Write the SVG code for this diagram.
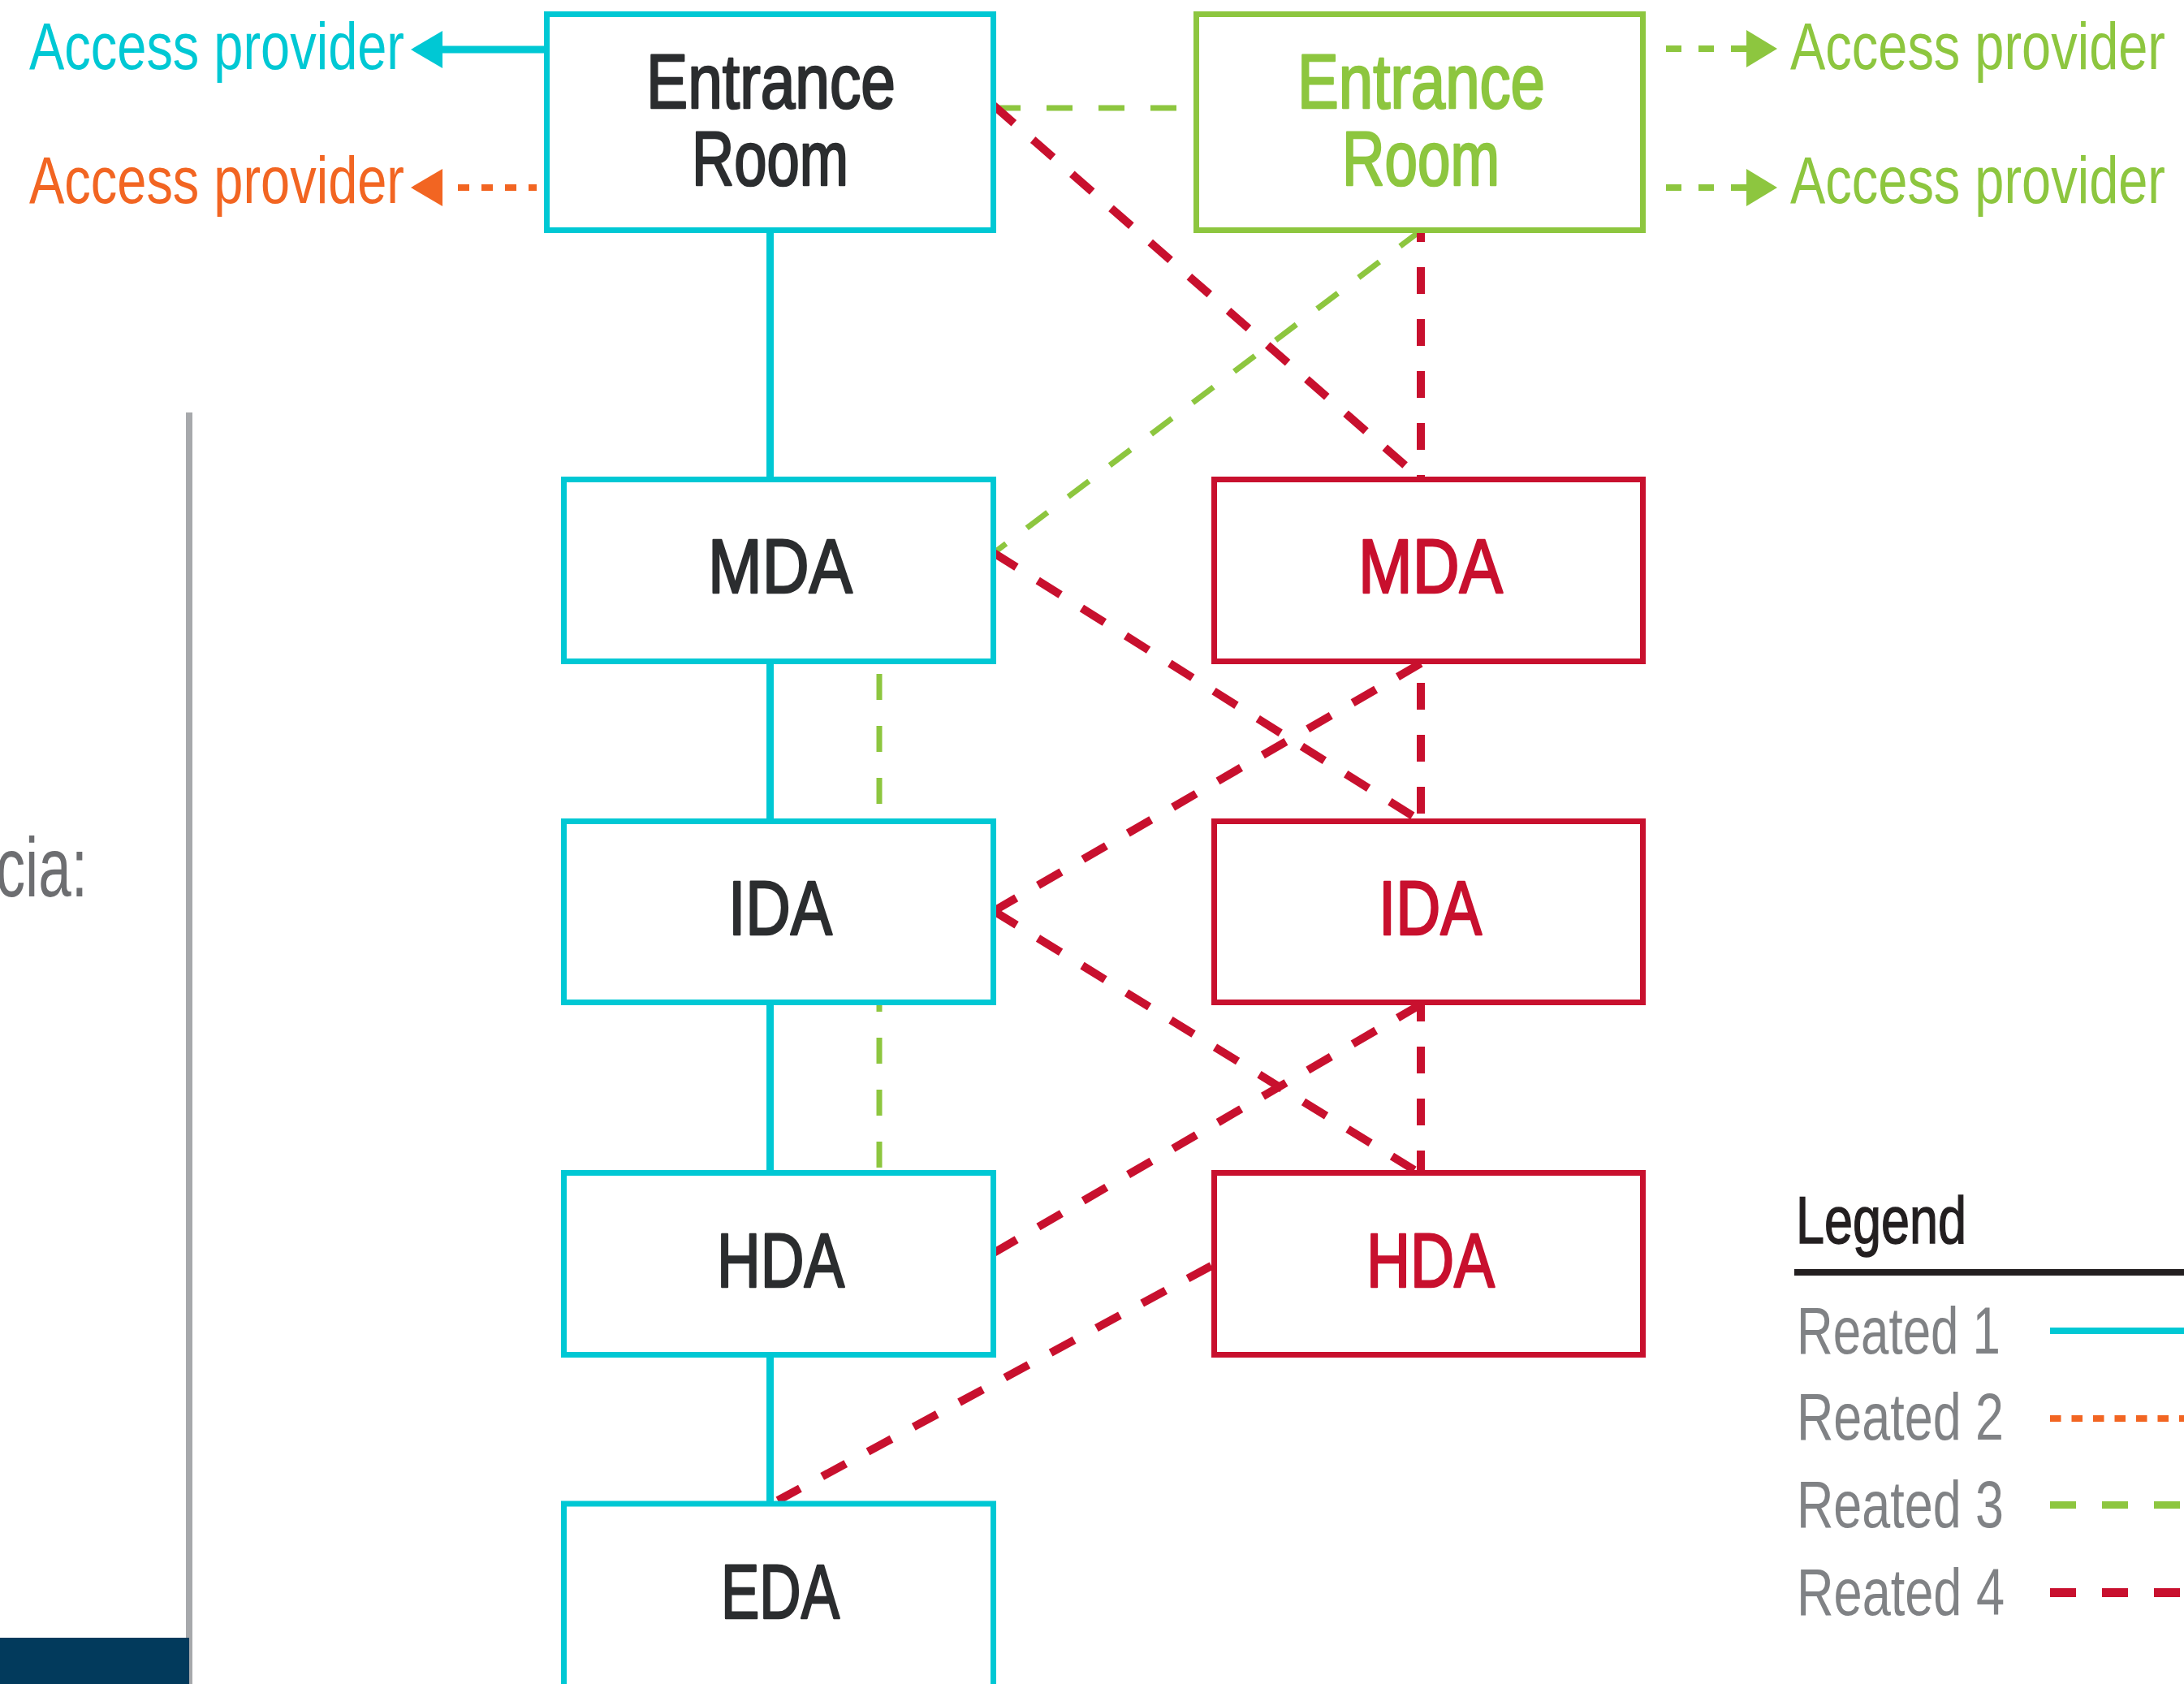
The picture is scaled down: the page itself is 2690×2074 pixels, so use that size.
<svg xmlns="http://www.w3.org/2000/svg" width="2690" height="2074" viewBox="0 0 2690 2074">
  <style>
    text { font-family: "Liberation Sans", Arial, sans-serif; }
    .box { fill: #ffffff; stroke-width: 7; }
    .cy { stroke: #00c8d4; }
    .gr { stroke: #8dc63f; }
    .rd { stroke: #c8102e; }
    .lbl { font-size: 95px; font-weight: normal; stroke-width: 2.6; stroke-linejoin: round; }
    .dark { fill: #2b2d2f; stroke: #2b2d2f; }
    .tgr { fill: #8dc63f; stroke: #8dc63f; }
    .trd { fill: #c8102e; stroke: #c8102e; }
    .ap { font-size: 81px; }
    .l1 { fill: none; stroke: #00c8d4; stroke-width: 9; }
    .l2 { fill: none; stroke: #f26522; stroke-width: 8; stroke-dasharray: 14 15; }
    .l3 { fill: none; stroke: #8dc63f; stroke-width: 7; stroke-dasharray: 32 32; }
    .l4 { fill: none; stroke: #c8102e; stroke-width: 10; stroke-dasharray: 33 31; }
    .leg { font-size: 82px; fill: #808285; }
  </style>

  <!-- side panel fragments -->
  <g id="side-panel">
    <line x1="233" y1="508" x2="233" y2="2074" stroke="#a7a9ac" stroke-width="8"/>
    <rect x="0" y="2017" width="233" height="57" fill="#023a5c"/>
    <text transform="translate(108,1104) scale(0.7,1)" font-size="104" fill="#6d6e71" text-anchor="end">cia:</text>
  </g>

  <!-- connectors -->
  <g id="connectors">
    <!-- backbone (solid) -->
    <line class="l1" x1="948.5" y1="287" x2="948.5" y2="1852"/>
    <!-- provider links -->
    <line class="l1" x1="670" y1="61" x2="540" y2="61"/>
    <polygon points="506,61 545,38 545,84" fill="#00c8d4"/>
    <line class="l2" x1="564" y1="231" x2="661" y2="231"/>
    <polygon points="506,231 545,208 545,254" fill="#f26522"/>
    <line x1="2052" y1="60" x2="2151" y2="60" stroke="#8dc63f" stroke-width="8" stroke-dasharray="19 21"/>
    <polygon points="2189,60 2151,37 2151,83" fill="#8dc63f"/>
    <line x1="2052" y1="231" x2="2151" y2="231" stroke="#8dc63f" stroke-width="8" stroke-dasharray="19 21"/>
    <polygon points="2189,231 2151,208 2151,254" fill="#8dc63f"/>
    <!-- green (type 3) links -->
    <line class="l3" x1="1225" y1="133" x2="1469" y2="133" stroke-width="8"/>
    <line class="l3" x1="1750" y1="284" x2="1224" y2="681"/>
    <line class="l3" x1="1083" y1="817" x2="1083" y2="1441" stroke-dashoffset="51"/>
    <!-- red (type 4) links -->
    <line class="l4" x1="1750" y1="287" x2="1750" y2="1441" stroke-dasharray="32 32" stroke-dashoffset="22"/>
    <line class="l4" x1="1224" y1="130" x2="1750" y2="590"/>
    <line class="l4" x1="1224" y1="681" x2="1745" y2="1008"/>
    <line class="l4" x1="1750" y1="817" x2="1224" y2="1122"/>
    <line class="l4" x1="1224" y1="1122" x2="1742" y2="1441"/>
    <line class="l4" x1="1750" y1="1237" x2="1224" y2="1543"/>
    <line class="l4" x1="1492" y1="1559" x2="958" y2="1848"/>
  </g>

  <!-- provider labels -->
  <g id="providers">
    <text class="ap" x="36" y="85" textLength="462" lengthAdjust="spacingAndGlyphs" fill="#00c8d4">Access provider</text>
    <text class="ap" x="36" y="250" textLength="462" lengthAdjust="spacingAndGlyphs" fill="#f26522">Access provider</text>
    <text class="ap" x="2205" y="85" textLength="462" lengthAdjust="spacingAndGlyphs" fill="#8dc63f">Access provider</text>
    <text class="ap" x="2205" y="250" textLength="462" lengthAdjust="spacingAndGlyphs" fill="#8dc63f">Access provider</text>
  </g>

  <!-- left column -->
  <g id="entrance-room-a">
    <rect class="box cy" x="673.5" y="17.5" width="550" height="266"/>
    <text class="lbl dark" x="796" y="133" textLength="307" lengthAdjust="spacingAndGlyphs">Entrance</text>
    <text class="lbl dark" x="852" y="228" textLength="193" lengthAdjust="spacingAndGlyphs">Room</text>
  </g>
  <g id="mda-a">
    <rect class="box cy" x="694.5" y="590.5" width="529" height="224"/>
    <text class="lbl dark" x="872" y="730" textLength="178" lengthAdjust="spacingAndGlyphs">MDA</text>
  </g>
  <g id="ida-a">
    <rect class="box cy" x="694.5" y="1011.5" width="529" height="223"/>
    <text class="lbl dark" x="897" y="1151" textLength="128" lengthAdjust="spacingAndGlyphs">IDA</text>
  </g>
  <g id="hda-a">
    <rect class="box cy" x="694.5" y="1444.5" width="529" height="224"/>
    <text class="lbl dark" x="883" y="1585" textLength="157" lengthAdjust="spacingAndGlyphs">HDA</text>
  </g>
  <g id="eda-a">
    <rect class="box cy" x="694.5" y="1852" width="529" height="240"/>
    <text class="lbl dark" x="888" y="1993" textLength="146" lengthAdjust="spacingAndGlyphs">EDA</text>
  </g>

  <!-- right column -->
  <g id="entrance-room-b">
    <rect class="box gr" x="1473.5" y="17.5" width="550" height="266"/>
    <text class="lbl tgr" x="1598" y="133" textLength="305" lengthAdjust="spacingAndGlyphs">Entrance</text>
    <text class="lbl tgr" x="1653" y="228" textLength="194" lengthAdjust="spacingAndGlyphs">Room</text>
  </g>
  <g id="mda-b">
    <rect class="box rd" x="1495.5" y="590.5" width="528" height="224"/>
    <text class="lbl trd" x="1673" y="730" textLength="178" lengthAdjust="spacingAndGlyphs">MDA</text>
  </g>
  <g id="ida-b">
    <rect class="box rd" x="1495.5" y="1011.5" width="528" height="223"/>
    <text class="lbl trd" x="1698" y="1151" textLength="127" lengthAdjust="spacingAndGlyphs">IDA</text>
  </g>
  <g id="hda-b">
    <rect class="box rd" x="1495.5" y="1444.5" width="528" height="224"/>
    <text class="lbl trd" x="1683" y="1585" textLength="158" lengthAdjust="spacingAndGlyphs">HDA</text>
  </g>

  <!-- legend -->
  <g id="legend">
    <text x="2212" y="1531" font-size="81" fill="#231f20" stroke="#231f20" stroke-width="1.5" textLength="210" lengthAdjust="spacingAndGlyphs">Legend</text>
    <line x1="2210" y1="1567" x2="2690" y2="1567" stroke="#231f20" stroke-width="8"/>
    <text class="leg" x="2213" y="1667" textLength="251" lengthAdjust="spacingAndGlyphs">Reated 1</text>
    <text class="leg" x="2213" y="1773" textLength="255" lengthAdjust="spacingAndGlyphs">Reated 2</text>
    <text class="leg" x="2213" y="1881" textLength="255" lengthAdjust="spacingAndGlyphs">Reated 3</text>
    <text class="leg" x="2213" y="1989" textLength="256" lengthAdjust="spacingAndGlyphs">Reated 4</text>
    <line x1="2525" y1="1639" x2="2690" y2="1639" stroke="#00c8d4" stroke-width="8"/>
    <line x1="2525" y1="1747" x2="2690" y2="1747" stroke="#f26522" stroke-width="8" stroke-dasharray="13.5 13"/>
    <line x1="2525" y1="1853.5" x2="2690" y2="1853.5" stroke="#8dc63f" stroke-width="9" stroke-dasharray="32 32"/>
    <line x1="2525" y1="1961.5" x2="2690" y2="1961.5" stroke="#c8102e" stroke-width="11" stroke-dasharray="32 32"/>
  </g>
</svg>
